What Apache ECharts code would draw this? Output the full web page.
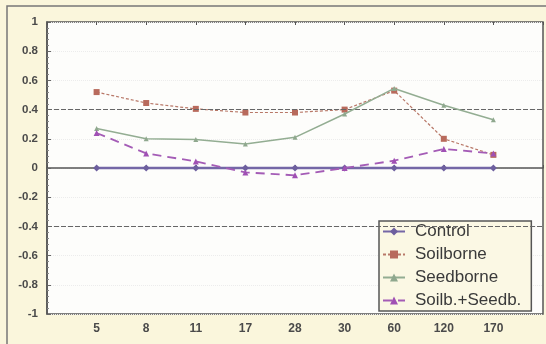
<!DOCTYPE html>
<html>
<head>
<meta charset="utf-8">
<script src="https://cdn.jsdelivr.net/npm/echarts@6/dist/echarts.min.js"></script>
<style>
  html, body { margin: 0; padding: 0; background: #faf6dc; }
  #chart { width: 546px; height: 344px; }
</style>
</head>
<body>
<div id="chart"></div>
<script>
// Sampling times (x-axis categories)
const days = ['5', '8', '11', '17', '28', '30', '60', '120', '170'];

// Series values
const control    = [0, 0, 0, 0, 0, 0, 0, 0, 0];
const soilborne  = [0.52, 0.445, 0.405, 0.38, 0.38, 0.40, 0.53, 0.20, 0.09];
const seedborne  = [0.27, 0.20, 0.195, 0.165, 0.21, 0.37, 0.545, 0.43, 0.33];
const combined   = [0.24, 0.10, 0.045, -0.03, -0.05, 0.0, 0.05, 0.13, 0.10];

// Reference thresholds
const thresholds = [0.4, -0.4];

const toPoints = arr => arr.map((v, i) => [i + 1, v]);

const chart = echarts.init(document.getElementById('chart'));

const labelFont = { fontFamily: 'Liberation Sans, Arial, sans-serif', color: '#4a4a4a', fontWeight: 'bold' };

chart.setOption({
  animation: false,
  backgroundColor: '#faf6dc',
  graphic: [{
    type: 'rect',
    shape: { x: 7, y: 6, width: 560, height: 360 },
    style: { fill: 'none', stroke: '#777', lineWidth: 1.5 },
    z: -1
  }],
  grid: {
    left: 47, top: 22, right: 3, bottom: 30,
    show: true,
    backgroundColor: '#fdfdfb',
    borderColor: '#555',
    borderWidth: 1.5
  },
  xAxis: [{
    type: 'value', min: 0, max: 10, interval: 1,
    axisLine: { show: true, lineStyle: { color: '#555', width: 1.5 } },
    axisTick: { show: true, inside: true, length: 3, lineStyle: { color: '#555' } },
    axisLabel: Object.assign({
      margin: 9, fontSize: 12,
      formatter: v => (v >= 1 && v <= days.length) ? days[v - 1] : ''
    }, labelFont),
    splitLine: { show: false }
  }, {
    type: 'value', min: 0, max: 10, interval: 1, position: 'top',
    axisLine: { show: false },
    axisTick: { show: true, inside: true, length: 3, lineStyle: { color: '#555' } },
    axisLabel: { show: false },
    splitLine: { show: false }
  }],
  yAxis: {
    type: 'value', min: -1, max: 1, interval: 0.2,
    axisLine: { show: true, lineStyle: { color: '#555', width: 1.5 } },
    axisTick: { show: true, inside: true, length: 4, lineStyle: { color: '#666' } },
    minorTick: { show: true, splitNumber: 5, length: 2, lineStyle: { color: '#888' } },
    axisLabel: Object.assign({
      margin: 9, fontSize: 11.5,
      formatter: v => String(Math.round(v * 10) / 10)
    }, labelFont),
    splitLine: { show: true, lineStyle: { color: '#ececec', type: 'dotted' } }
  },
  legend: {
    orient: 'vertical',
    left: 379, top: 221,
    padding: [2, 10, 2, 3],
    itemGap: 6,
    itemWidth: 22, itemHeight: 10,
    backgroundColor: '#fbf8e4',
    borderColor: '#555', borderWidth: 1.5,
    textStyle: { fontFamily: 'Liberation Sans, Arial, sans-serif', fontSize: 17, color: '#3a3a3a', padding: [0, 0, 0, 5] },
    data: ['Control', 'Soilborne', 'Seedborne', 'Soilb.+Seedb.']
  },
  series: [{
    name: 'Control', type: 'line', data: toPoints(control),
    symbol: 'diamond', symbolSize: 7,
    itemStyle: { color: '#6d5f9e' },
    lineStyle: { color: '#7467a6', width: 2.5 },
    z: 3
  }, {
    name: 'Soilborne', type: 'line', data: toPoints(soilborne),
    symbol: 'rect', symbolSize: 6,
    itemStyle: { color: '#b86a5c' },
    lineStyle: { color: '#b87868', width: 1.2, type: [3, 2] },
    markLine: {
      silent: true, symbol: 'none', label: { show: false },
      lineStyle: { color: '#666', width: 1, type: [5, 2] },
      data: thresholds.map(t => ({ yAxis: t }))
    },
    z: 4
  }, {
    name: 'Seedborne', type: 'line', data: toPoints(seedborne),
    symbol: 'triangle', symbolSize: 5,
    itemStyle: { color: '#8fa88e' },
    lineStyle: { color: '#93ad92', width: 1.5 },
    z: 5
  }, {
    name: 'Soilb.+Seedb.', type: 'line', data: toPoints(combined),
    symbol: 'triangle', symbolSize: 6,
    itemStyle: { color: '#a050b4' },
    lineStyle: { color: '#a45cb6', width: 1.8, type: [9, 6] },
    z: 6
  }]
});
</script>
</body>
</html>
